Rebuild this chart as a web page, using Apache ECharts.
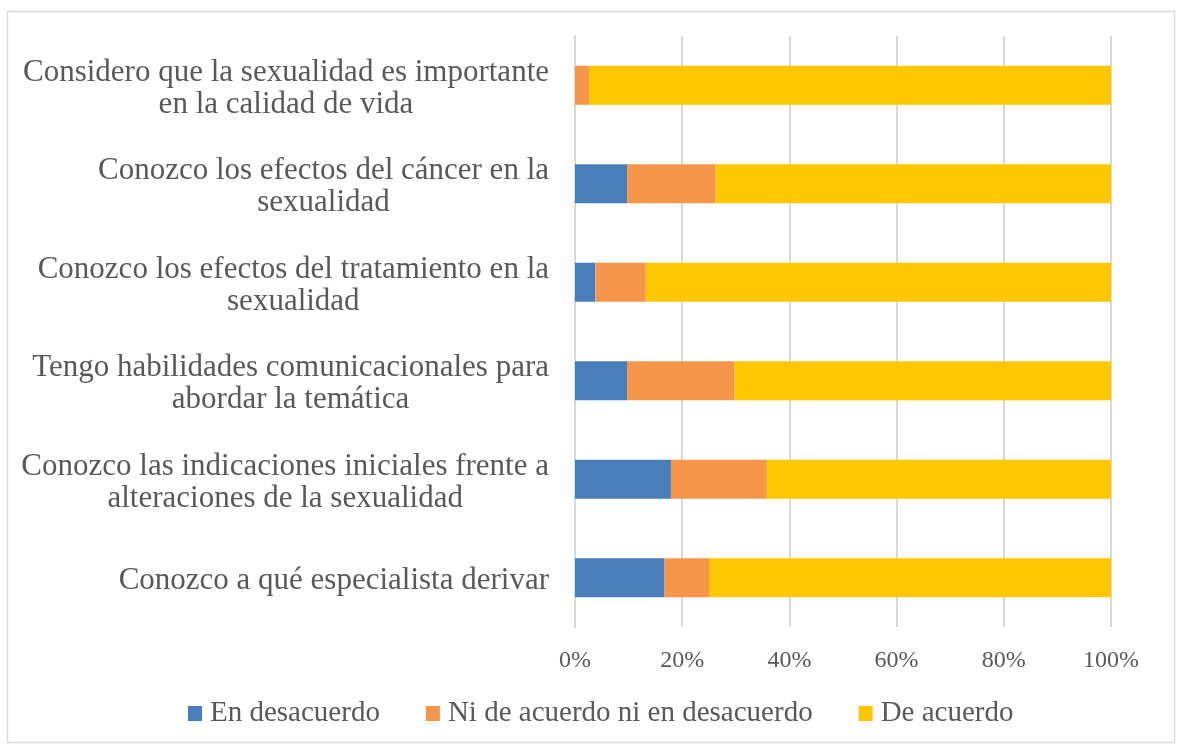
<!DOCTYPE html>
<html>
<head>
<meta charset="utf-8">
<script src="https://cdn.jsdelivr.net/npm/echarts@6/dist/echarts.min.js"></script>
<style>html,body{margin:0;padding:0;background:#fff}#c{width:1177px;height:745px}</style>
</head>
<body>
<div id="c"></div>
<script>
const categories = [
  "Considero que la sexualidad es importante\nen la calidad de vida",
  "Conozco los efectos del cáncer en la\nsexualidad",
  "Conozco los efectos del tratamiento en la\nsexualidad",
  "Tengo habilidades comunicacionales para\nabordar la temática",
  "Conozco las indicaciones iniciales frente a\nalteraciones de la sexualidad",
  "Conozco a qué especialista derivar"
];
const seriesNames = ["En desacuerdo", "Ni de acuerdo ni en desacuerdo", "De acuerdo"];
const enDesacuerdo = [0, 9.7, 3.8, 9.7, 17.9, 16.7];
const niDeAcuerdo = [2.6, 16.5, 9.4, 20.0, 17.9, 8.3];
const deAcuerdo = [97.4, 73.8, 86.8, 70.3, 64.2, 75.0];
const xTicks = [0, 20, 40, 60, 80, 100];

const FONT = "Liberation Serif";
const colors = ["#4A7EBA", "#F5964A", "#FFC700"];
const chart = echarts.init(document.getElementById('c'), null, {renderer: 'canvas'});
const values = [enDesacuerdo, niDeAcuerdo, deAcuerdo];
chart.setOption({
  animation: false,
  color: colors,
  graphic: [{
    type: 'rect', left: 5, top: 9, silent: true, z: -10,
    shape: {width: 1167, height: 731},
    style: {fill: 'none', stroke: '#d9d9d9', lineWidth: 1.5}
  }],
  grid: {left: 575, right: 66, top: 36, bottom: 118, containLabel: false},
  legend: {
    bottom: 12, left: 183,
    itemWidth: 14, itemHeight: 15, itemGap: 46,
    icon: 'rect',
    textStyle: {fontFamily: FONT, fontSize: 29, color: '#595959', padding: [0, 0, 0, 3]},
    data: seriesNames
  },
  xAxis: {
    type: 'value', min: xTicks[0], max: xTicks[xTicks.length - 1], interval: 20,
    axisLine: {show: false}, axisTick: {show: false},
    splitLine: {show: true, lineStyle: {color: '#d9d9d9', width: 2}},
    axisLabel: {formatter: '{value}%', fontFamily: FONT, fontSize: 24, color: '#595959', margin: 22}
  },
  yAxis: {
    type: 'category', inverse: true, data: categories,
    axisLine: {show: true, lineStyle: {color: '#d9d9d9', width: 2}},
    axisTick: {show: false},
    axisLabel: {
      margin: 26, align: 'right', padding: [7, 0, 0, 0],
      fontFamily: FONT, fontSize: 31, color: '#595959', lineHeight: 32,
      formatter: v => v.split('\n').map(s => '{c|' + s + '}').join('\n'),
      rich: {c: {align: 'center', fontFamily: FONT, fontSize: 31, color: '#595959', lineHeight: 32}}
    }
  },
  series: seriesNames.map((n, i) => ({
    name: n, type: 'bar', stack: 'total', barWidth: 39,
    data: values[i]
  }))
});
</script>
</body>
</html>
